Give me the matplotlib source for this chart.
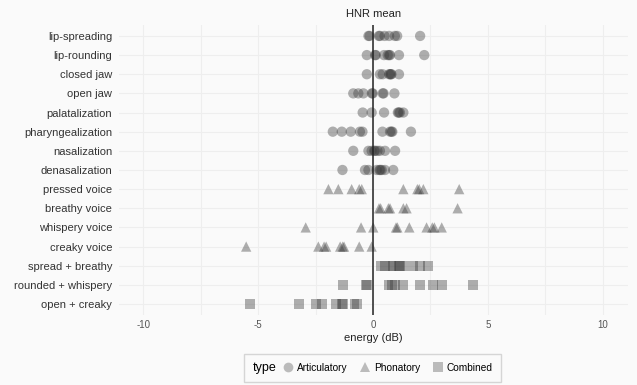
import matplotlib.pyplot as plt
from matplotlib.lines import Line2D
from matplotlib.offsetbox import HPacker

plt.rcParams['font.family'] = ['Liberation Sans', 'DejaVu Sans']

# ряди (зверху вниз)
labels = ['lip-spreading', 'lip-rounding', 'closed jaw', 'open jaw', 'palatalization',
          'pharyngealization', 'nasalization', 'denasalization', 'pressed voice',
          'breathy voice', 'whispery voice', 'creaky voice', 'spread + breathy',
          'rounded + whispery', 'open + creaky']
types = ['Articulatory'] * 8 + ['Phonatory'] * 4 + ['Combined'] * 3

values = [
    [-0.2, -0.15, 0.25, 0.3, 0.5, 0.7, 0.95, 1.05, 2.05],
    [-0.27, 0.09, 0.12, 0.48, 0.64, 0.7, 0.74, 1.13, 2.23],
    [-0.27, 0.3, 0.42, 0.7, 0.74, 0.78, 0.8, 1.13],
    [-0.86, -0.64, -0.42, -0.05, -0.01, 0.42, 0.46, 0.93],
    [-0.45, -0.06, 0.48, 1.08, 1.12, 1.17, 1.32],
    [-1.75, -1.36, -0.97, -0.57, -0.46, 0.41, 0.74, 0.8, 0.84, 1.65],
    [-0.86, -0.2, -0.06, 0.05, 0.09, 0.19, 0.3, 0.52, 0.96],
    [-1.33, -0.35, -0.2, 0.16, 0.28, 0.32, 0.38, 0.52, 0.88],
    [-1.94, -1.51, -0.93, -0.6, -0.49, 1.32, 1.93, 2.01, 2.19, 3.75],
    [0.26, 0.33, 0.67, 0.74, 1.32, 1.46, 3.68],
    [-2.93, -0.52, 0.01, 1.0, 1.06, 1.58, 2.33, 2.58, 2.67, 2.99],
    [-5.52, -2.38, -2.13, -2.04, -1.43, -1.32, -1.26, -0.6, -0.06],
    [0.33, 0.52, 0.77, 0.88, 1.14, 1.16, 1.29, 1.75, 2.04, 2.4],
    [-1.32, -0.3, -0.28, 0.67, 0.81, 0.96, 1.32, 2.04, 2.6, 2.99, 4.36],
    [-5.35, -3.22, -2.48, -2.23, -1.61, -1.36, -1.29, -0.81, -0.71],
]

markers = {'Articulatory': 'o', 'Phonatory': '^', 'Combined': 's'}
sizes = {'Articulatory': 55, 'Phonatory': 55, 'Combined': 50}
bg = '#fafafa'

fig = plt.figure(figsize=(6.37, 3.85), dpi=100, facecolor=bg)
ax = fig.add_axes([0.187, 0.182, 0.799, 0.753], facecolor=bg)

for i, (vals, t) in enumerate(zip(values, types)):
    ax.scatter(vals, [i] * len(vals), marker=markers[t], s=sizes[t], color='#3a3a3a',
               alpha=0.4, edgecolors='none', zorder=3)

ax.axvline(0, color='#222222', lw=1.1, zorder=4)

ax.set_xlim(-11.05, 11.1)
ax.set_ylim(len(labels) - 0.43, -0.57)
ax.set_yticks(range(len(labels)))
ax.set_yticklabels(labels, fontsize=8, color='#333333')
ax.set_xticks([-10, -5, 0, 5, 10])
ax.set_xticklabels(['-10', '-5', '0', '5', '10'], fontsize=7, color='#555555')
ax.set_xticks([-7.5, -2.5, 2.5, 7.5], minor=True)
ax.tick_params(length=0, which='both')
ax.tick_params(axis='y', pad=5)
ax.tick_params(axis='x', pad=4)
ax.grid(True, which='both', color='#eeeeee', lw=0.8, zorder=0)
for s in ax.spines.values():
    s.set_visible(False)

ax.set_title('HNR mean', fontsize=8, color='#222222', pad=6)
ax.set_xlabel('energy (dB)', fontsize=8, color='#222222', labelpad=2)

handles = [Line2D([], [], marker=markers[t], ls='none', color='#bbbbbb', markersize=7,
                  markeredgewidth=0, label=t) for t in ['Articulatory', 'Phonatory', 'Combined']]
leg = fig.legend(handles=handles, loc='lower center', bbox_to_anchor=(0.585, -0.005),
                 ncol=3, fontsize=7.3, title='type', title_fontsize=9,
                 frameon=True, fancybox=False, edgecolor='#cccccc', facecolor=bg,
                 handletextpad=0.3, columnspacing=1.1, handlelength=1.2, borderpad=0.8)
# заголовок легенди зліва від елементів
vp = leg._legend_box
title_box = leg._legend_title_box
items = vp.get_children()[1]
vp._children = [HPacker(pad=0, sep=4, children=[title_box, items], align='center')]

fig.savefig('out.png', dpi=100, facecolor=bg)
